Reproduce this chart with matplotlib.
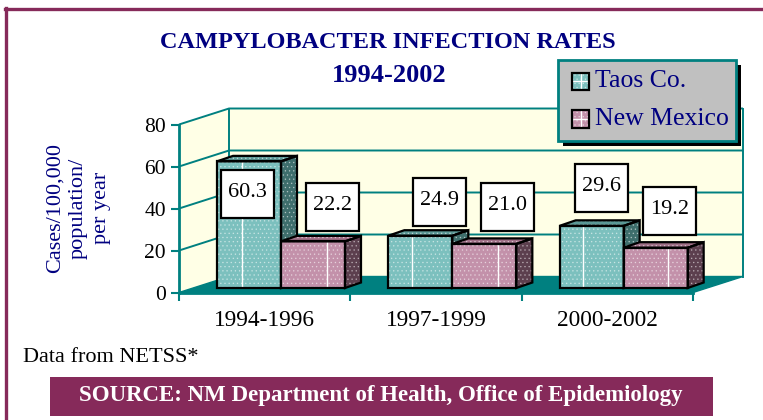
import matplotlib
matplotlib.use("Agg")
import matplotlib.pyplot as plt
from matplotlib.patches import Polygon, Rectangle
from matplotlib.lines import Line2D

# ---- data -------------------------------------------------------------
periods = ["1994-1996", "1997-1999", "2000-2002"]
series_names = ["Taos Co.", "New Mexico"]
taos_rates = [60.3, 24.9, 29.6]
nm_rates = [22.2, 21.0, 19.2]
y_ticks = [0, 20, 40, 60, 80]

# ---- styling ----------------------------------------------------------
plt.rcParams['font.family'] = ['Liberation Serif', 'DejaVu Serif']
plt.rcParams['hatch.linewidth'] = 0.5
NAVY = '#000080'
TEAL = '#008080'
MAROON = '#862A5A'
WALL = '#FFFFE6'
DOTS = (1, 1, 1, 0.45)
# front / side / top face colours for each series
face_colors = [
    ('#7CC0BE', '#3E6E6C', '#5A9896'),
    ('#C391AA', '#5C3F4E', '#A07087'),
]
# per-label nudges (pixels right, rate units above the bar top)
label_nudge = [[(-1.5, -13.6), (19, 18.3)],
               [(19, 18.4), (23, 19.5)],
               [(10, 20.2), (14, 19.6)]]

W, H = 763, 420
fig = plt.figure(figsize=(W / 100, H / 100), dpi=100)


def fpos(x, y):
    """pixel position (from top-left) -> figure fraction"""
    return x / W, 1 - y / H


# front plane of the plot area, in pixels
X0, X1 = 179, 693
Y0, Y1 = 292.5, 124.5
ax = fig.add_axes([X0 / W, 1 - Y0 / H, (X1 - X0) / W, (Y0 - Y1) / H])
ax.set_xlim(0, 3)
ax.set_ylim(0, 80)
ax.patch.set_visible(False)

px_x = (X1 - X0) / 3.0
px_y = (Y0 - Y1) / 80.0


def ux(p):
    return p / px_x


def uy(p):
    return p / px_y


# depth of the chart box and of the bars
DX, DY = ux(50), uy(16)
OX, OY = ux(14), uy(4.5)
BX, BY = ux(16), uy(5.5)
BW = ux(64)
START = ux(24)

# ---- walls and floor --------------------------------------------------
ax.add_patch(Polygon([(DX, DY), (3 + DX, DY), (3 + DX, 80 + DY), (DX, 80 + DY)],
                     closed=True, fc=WALL, ec='none', zorder=0, clip_on=False))
ax.add_patch(Polygon([(0, 0), (DX, DY), (DX, 80 + DY), (0, 80)],
                     closed=True, fc=WALL, ec='none', zorder=0, clip_on=False))
for t in y_ticks[1:]:
    ax.plot([0, DX, 3 + DX], [t, t + DY, t + DY], color=TEAL, lw=1.4,
            zorder=1, clip_on=False, solid_capstyle='butt')
ax.plot([DX, DX], [DY, 80 + DY], color=TEAL, lw=1.4, zorder=1, clip_on=False)
ax.plot([3 + DX, 3 + DX], [DY, 80 + DY], color=TEAL, lw=1.4, zorder=1, clip_on=False)
ax.add_patch(Polygon([(0, 0), (3, 0), (3 + DX, DY), (DX, DY)], closed=True,
                     fc=TEAL, ec=TEAL, lw=1, zorder=1, clip_on=False))

# ---- 3-D bars ---------------------------------------------------------
PATTERN_PHASE = ux(63)
PATTERN_STEP = ux(85.2)


def face(points, color, z):
    ax.add_patch(Polygon(points, closed=True, fc=color, ec=DOTS, lw=0,
                         hatch='....', zorder=z, clip_on=False))
    ax.add_patch(Polygon(points, closed=True, fc='none', ec='black', lw=1.6,
                         joinstyle='miter', zorder=z + 0.1, clip_on=False))


z = 3
for i in range(len(periods)):
    for s, vals in enumerate([taos_rates, nm_rates]):
        v = vals[i]
        front, side, top_c = face_colors[s]
        xl = i + START + s * BW + OX
        xr = xl + BW
        base, top = OY, OY + v
        face([(xl, base), (xr, base), (xr, top), (xl, top)], front, z)
        # white pattern stripes running through the front faces
        k = 0
        while PATTERN_PHASE + k * PATTERN_STEP < xr:
            xs = PATTERN_PHASE + k * PATTERN_STEP
            if xl + ux(2) < xs < xr - ux(2):
                ax.plot([xs, xs], [base + uy(1), top - uy(1)], color='white',
                        lw=1, zorder=z + 0.05, clip_on=False)
            k += 1
        face([(xr, base), (xr + BX, base + BY), (xr + BX, top + BY), (xr, top)], side, z)
        face([(xl, top), (xr, top), (xr + BX, top + BY), (xl + BX, top + BY)], top_c, z)
        z += 1

        # value label in a white box
        nx, ny = label_nudge[i][s]
        cx = (xl + xr) / 2 + ux(nx)
        cy = v + ny
        bw, bh = ux(53), uy(48)
        ax.add_patch(Rectangle((cx - bw / 2, cy - bh / 2), bw, bh, fc='white',
                               ec='black', lw=1.6, zorder=20, clip_on=False))
        ax.text(cx, cy + uy(1.5), f"{v:.1f}", ha='center', va='center',
                fontsize=16, color='black', zorder=21, clip_on=False)

# ---- axes -------------------------------------------------------------
for side_name in ['top', 'right']:
    ax.spines[side_name].set_visible(False)
ax.spines['left'].set_color(TEAL)
ax.spines['left'].set_linewidth(2)
ax.spines['bottom'].set_color(TEAL)
ax.spines['bottom'].set_linewidth(2)
ax.set_yticks(y_ticks)
ax.set_yticklabels([str(t) for t in y_ticks])
ax.tick_params(axis='y', colors=TEAL, labelcolor='black', length=6, width=1.5,
               pad=3.5, labelsize=15.5)
ax.set_xticks([0, 1, 2, 3])
ax.set_xticklabels([])
ax.tick_params(axis='x', which='major', colors=TEAL, length=6, width=1.5)
ax.set_xticks([0.5, 1.5, 2.5], minor=True)
ax.set_xticklabels(periods, minor=True)
ax.tick_params(axis='x', which='minor', length=0, pad=12.5, labelsize=16.8,
               labelcolor='black')

# ---- titles and notes -------------------------------------------------
fig.text(*fpos(388, 42), "CAMPYLOBACTER INFECTION RATES", ha='center', va='center',
         fontsize=17.5, fontweight='bold', color=NAVY)
fig.text(*fpos(389, 76), "1994-2002", ha='center', va='center',
         fontsize=19, fontweight='bold', color=NAVY)
fig.text(*fpos(78, 208), "Cases/100,000\npopulation/\nper year", rotation=90,
         ha='center', va='center', multialignment='center', fontsize=16,
         linespacing=1.3, color=NAVY)
fig.text(*fpos(23, 358), "Data from NETSS*", ha='left', va='center', fontsize=16,
         color='black')

# ---- legend -----------------------------------------------------------
def frect(x0, y0, x1, y1, **kw):
    fx0, fy1 = fpos(x0, y0)
    fx1, fy0 = fpos(x1, y1)
    r = Rectangle((fx0, fy0), fx1 - fx0, fy1 - fy0, transform=fig.transFigure, **kw)
    fig.add_artist(r)
    return r


frect(563, 65, 741, 146, fc='black', ec='none', zorder=5)
frect(558, 60, 736, 141, fc='#C0C0C0', ec=TEAL, lw=2, zorder=6)
for s, name in enumerate(series_names):
    yc = 81 + s * 38
    frect(572, yc - 8.5, 589, yc + 8.5, fc=face_colors[s][0], ec=DOTS, lw=0,
          hatch='....', zorder=7)
    fig.add_artist(Line2D([fpos(580.5, 0)[0]] * 2, [fpos(0, yc - 8)[1], fpos(0, yc + 8)[1]],
                          color='white', lw=1, transform=fig.transFigure, zorder=7.5))
    fig.add_artist(Line2D([fpos(573, 0)[0], fpos(588, 0)[0]], [fpos(0, yc)[1]] * 2,
                          color='white', lw=1, transform=fig.transFigure, zorder=7.5))
    frect(572, yc - 8.5, 589, yc + 8.5, fc='none', ec='black', lw=1.6, zorder=8)
    fig.text(*fpos(595, yc), name, ha='left', va='center', fontsize=18.5,
             color=NAVY, zorder=9)

# ---- source banner and frame -------------------------------------------
frect(50, 377, 713, 416, fc=MAROON, ec='none', zorder=5)
fig.text(*fpos(381, 396), "SOURCE: NM Department of Health, Office of Epidemiology",
         ha='center', va='center', fontsize=16.5, fontweight='bold', color='white',
         zorder=6)
fig.add_artist(Line2D([fpos(5, 0)[0], 1.0], [fpos(0, 9)[1]] * 2, color=MAROON, lw=2.4,
                      transform=fig.transFigure, zorder=5))
fig.add_artist(Line2D([fpos(6, 0)[0]] * 2, [fpos(0, 8)[1], 0.0], color=MAROON, lw=2.4,
                      transform=fig.transFigure, zorder=5))

fig.savefig("out.png", dpi=100)
